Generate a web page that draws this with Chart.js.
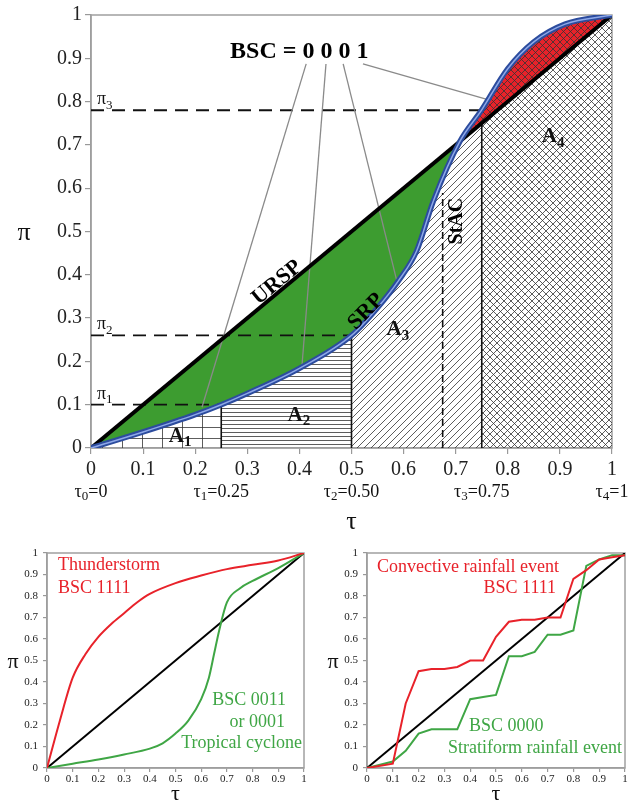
<!DOCTYPE html>
<html>
<head>
<meta charset="utf-8">
<script src="https://cdn.jsdelivr.net/npm/chart.js@4.4.1/dist/chart.umd.min.js"></script>
<style>
body { margin: 0; background: #fff; width: 633px; height: 803px; position: relative; overflow: hidden; }
canvas { position: absolute; }
#topChart { left: 0; top: 0; }
#leftChart { left: 0; top: 530px; }
#rightChart { left: 316px; top: 530px; }
</style>
</head>
<body>
<canvas id="topChart" width="633" height="540"></canvas>
<canvas id="leftChart" width="316" height="273"></canvas>
<canvas id="rightChart" width="317" height="273"></canvas>
<script>
// main diagram: SRP curve and the uniform line URSP
const srpTau = [0, 0.1, 0.2, 0.25, 0.3, 0.4, 0.5, 0.55, 0.59, 0.625, 0.657, 0.708, 0.75, 0.8, 0.85, 0.91, 1];
const srpPi = [0, 0.037, 0.077, 0.1, 0.126, 0.184, 0.26, 0.324, 0.386, 0.455, 0.57, 0.708, 0.781, 0.876, 0.938, 0.979, 1];
const urspTau = [0, 1];
const urspPi = [0, 1];
const tauBreaks = [0, 0.25, 0.5, 0.75, 1];
const piBreaks = [0.1, 0.26, 0.78];
const stacTau = 0.675;
const bscText = 'BSC = 0 0 0 1';
const leaderFrom = [[0.413, 0.887], [0.451, 0.887], [0.484, 0.887], [0.522, 0.887]];
const leaderTo = [[0.213, 0.094], [0.405, 0.191], [0.587, 0.386], [0.76, 0.805]];

// bottom left: thunderstorm vs tropical cyclone
const stormTau = [0, 0.05, 0.1, 0.15, 0.2, 0.25, 0.3, 0.35, 0.4, 0.5, 0.6, 0.7, 0.8, 0.9, 1];
const stormPi = [0, 0.22, 0.42, 0.53, 0.61, 0.67, 0.72, 0.77, 0.81, 0.86, 0.895, 0.925, 0.945, 0.965, 1];
const cycloneTau = [0, 0.1, 0.2, 0.3, 0.4, 0.45, 0.5, 0.55, 0.6, 0.63, 0.65, 0.67, 0.7, 0.75, 0.8, 0.9, 1];
const cyclonePi = [0, 0.02, 0.04, 0.063, 0.09, 0.115, 0.16, 0.22, 0.32, 0.42, 0.53, 0.64, 0.77, 0.835, 0.87, 0.93, 1];

// bottom right: convective vs stratiform rainfall event
const eventTau = [0, 0.1, 0.15, 0.2, 0.25, 0.3, 0.35, 0.4, 0.45, 0.5, 0.55, 0.6, 0.65, 0.7, 0.75, 0.8, 0.85, 0.9, 0.95, 1];
const convectivePi = [0, 0.02, 0.30, 0.45, 0.46, 0.46, 0.47, 0.50, 0.50, 0.61, 0.68, 0.69, 0.69, 0.70, 0.70, 0.88, 0.92, 0.97, 0.98, 0.99];
const stratiformPi = [0, 0.03, 0.08, 0.16, 0.18, 0.18, 0.18, 0.32, 0.33, 0.34, 0.52, 0.52, 0.54, 0.62, 0.62, 0.64, 0.94, 0.97, 0.99, 0.99];

const serif = '"Liberation Serif", "Times New Roman", serif';
const RED = '#e8222a';
const GREEN = '#3fa645';

Chart.defaults.font.family = serif;
Chart.defaults.color = '#222';
Chart.defaults.animation = false;
Chart.defaults.responsive = false;
Chart.defaults.events = [];
Chart.defaults.devicePixelRatio = 1;
Chart.defaults.plugins.legend.display = false;
Chart.defaults.plugins.tooltip.enabled = false;
Chart.defaults.elements.point.radius = 0;

function pts(xs, ys) {
    return xs.map((x, i) => ({ x: x, y: ys[i] }));
}
function interp(xs, ys, x) {
    for (let i = 1; i < xs.length; i++) {
        if (x <= xs[i]) {
            const t = (x - xs[i - 1]) / (xs[i] - xs[i - 1]);
            return ys[i - 1] + t * (ys[i] - ys[i - 1]);
        }
    }
    return ys[ys.length - 1];
}
const srpAt = x => interp(srpTau, srpPi, x);
const urspAt = x => interp(urspTau, urspPi, x);
const lowerAt = x => Math.min(srpAt(x), urspAt(x));

// area under the lower of SRP / URSP between two tau breaks
function areaPts(a, b) {
    const xs = [a].concat(srpTau.filter(t => t > a && t < b), [b]);
    return xs.map(t => ({ x: t, y: lowerAt(t) }));
}

function makePattern(w, h, bg, draw, dx, dy) {
    const c = document.createElement('canvas');
    c.width = w; c.height = h;
    const g = c.getContext('2d');
    if (bg) { g.fillStyle = bg; g.fillRect(0, 0, w, h); }
    g.strokeStyle = '#333';
    g.lineWidth = 0.8;
    g.beginPath();
    draw(g, w, h);
    g.stroke();
    const p = document.getElementById('topChart').getContext('2d').createPattern(c, 'repeat');
    if (dx || dy) p.setTransform(new DOMMatrix([1, 0, 0, 1, dx || 0, dy || 0]));
    return p;
}
function cross(g, w, h) {
    g.moveTo(0, 0); g.lineTo(w, h);
    g.moveTo(0, h); g.lineTo(w, 0);
}
const gridPat = makePattern(20, 11, null, (g, w, h) => {
    g.moveTo(0.5, 0); g.lineTo(0.5, h);
    g.moveTo(0, 0.5); g.lineTo(w, 0.5);
}, 2, 9);
const hLinePat = makePattern(8, 4, null, (g, w) => { g.moveTo(0, 0.5); g.lineTo(w, 0.5); });
const diagPat = makePattern(7, 7, null, (g, w, h) => {
    g.moveTo(0, h); g.lineTo(w, 0);
    g.moveTo(-1, 1); g.lineTo(1, -1);
    g.moveTo(w - 1, h + 1); g.lineTo(w + 1, h - 1);
});
const crossPat = makePattern(7, 7, null, cross);
const redPat = makePattern(7, 7, RED, cross);
const regionFills = [gridPat, hLinePat, diagPat, crossPat];

function fmt(v) { return String(Math.round(v * 10) / 10); }

function axes(tickSize, yWidth, xHeight, tickLen, yPad, xPad) {
    const common = {
        type: 'linear', min: 0, max: 1,
        grid: { drawOnChartArea: false, drawTicks: true, tickLength: tickLen, color: '#999', lineWidth: 1.2 },
        border: { color: '#999', width: 1.5 }
    };
    return {
        x: Object.assign({}, common, {
            ticks: { stepSize: 0.1, autoSkip: false, maxRotation: 0, font: { size: tickSize }, color: '#222', padding: xPad, callback: fmt },
            afterFit: s => { s.height = xHeight; }
        }),
        y: Object.assign({}, common, {
            ticks: { stepSize: 0.1, font: { size: tickSize }, color: '#222', padding: yPad, callback: fmt },
            afterFit: s => { s.width = yWidth; }
        })
    };
}

const boxPlugin = {
    id: 'box',
    beforeDatasetsDraw(chart) {
        const a = chart.chartArea, ctx = chart.ctx;
        ctx.save();
        ctx.strokeStyle = '#a0a0a0';
        ctx.lineWidth = 1.5;
        ctx.strokeRect(a.left, a.top, a.right - a.left, a.bottom - a.top);
        ctx.restore();
    }
};

function notes(fn) {
    return {
        id: 'notes',
        afterDatasetsDraw(chart) {
            const ctx = chart.ctx;
            ctx.save();
            fn(ctx, v => chart.scales.x.getPixelForValue(v), v => chart.scales.y.getPixelForValue(v), chart.chartArea);
            ctx.restore();
        }
    };
}
function text(ctx, s, x, y, size, color, align, weight, base) {
    ctx.font = (weight || 'normal') + ' ' + size + 'px ' + serif;
    ctx.fillStyle = color || '#111';
    ctx.textAlign = align || 'center';
    ctx.textBaseline = base || 'middle';
    ctx.fillText(s, x, y);
}
// text with a subscript, e.g. tau_1=0.25; y is the baseline
function subText(ctx, main, sub, rest, x, y, size, weight, align, drop) {
    const f1 = weight + ' ' + size + 'px ' + serif;
    const f2 = weight + ' ' + Math.round(size * 0.7) + 'px ' + serif;
    ctx.font = f1;
    const w1 = ctx.measureText(main).width, w3 = ctx.measureText(rest).width;
    ctx.font = f2;
    const w2 = ctx.measureText(sub).width;
    const left = align === 'center' ? x - (w1 + w2 + w3) / 2 : x;
    ctx.fillStyle = '#111';
    ctx.textAlign = 'left';
    ctx.textBaseline = 'alphabetic';
    ctx.font = f1; ctx.fillText(main, left, y);
    ctx.font = f2; ctx.fillText(sub, left + w1, y + size * drop);
    ctx.font = f1; ctx.fillText(rest, left + w1 + w2, y);
}

// ---------- main diagram ----------
const topSets = [];
// pattern areas A1..A4
tauBreaks.slice(0, -1).forEach((a, i) => {
    topSets.push({ data: areaPts(a, tauBreaks[i + 1]), borderWidth: 0, fill: 'origin', backgroundColor: regionFills[i], cubicInterpolationMode: 'monotone', order: 10 });
});
// verticals at tau breaks and the StAC dashed line
tauBreaks.slice(1, -1).forEach(t => {
    topSets.push({ data: [{ x: t, y: 0 }, { x: t, y: lowerAt(t) }], borderColor: '#111', borderWidth: 1.6, order: 9 });
});
topSets.push({ data: [{ x: stacTau, y: 0 }, { x: stacTau, y: srpAt(stacTau) - 0.03 }], borderColor: '#111', borderWidth: 1.6, borderDash: [7, 4], order: 9 });
// URSP line (target of the SRP fill)
const urspIndex = topSets.length;
topSets.push({ data: pts(urspTau, urspPi), borderColor: '#000', borderWidth: 4, order: 5 });
// fill between SRP and URSP
topSets.push({ data: pts(srpTau, srpPi), borderWidth: 0, cubicInterpolationMode: 'monotone', order: 8,
    fill: { target: urspIndex, above: redPat, below: '#3d9c30' } });
// dashed pi levels
piBreaks.forEach((p, i) => {
    topSets.push({ data: [{ x: 0, y: p }, { x: tauBreaks[i + 1], y: p }], borderColor: '#111', borderWidth: 1.8, borderDash: [13, 8], order: 7 });
});
// leader lines from the BSC digits
leaderFrom.forEach((f, i) => {
    topSets.push({ data: [{ x: f[0], y: f[1] }, { x: leaderTo[i][0], y: leaderTo[i][1] }], borderColor: '#8a8a8a', borderWidth: 1.3, order: 6 });
});
// SRP double line
topSets.push({ data: pts(srpTau, srpPi), borderColor: '#2c4c9e', borderWidth: 5.5, cubicInterpolationMode: 'monotone', order: 4 });
topSets.push({ data: pts(srpTau, srpPi), borderColor: '#8ea8e8', borderWidth: 1.5, cubicInterpolationMode: 'monotone', order: 3 });

const topNotes = notes((ctx, px, py) => {
    text(ctx, '\u03c0', 24, py(0.5) + 2, 26);
    text(ctx, '\u03c4', px(0.5), 522, 26);
    text(ctx, bscText, px(0.267), py(0.901), 24, '#000', 'left', 'bold', 'alphabetic');
    tauBreaks.forEach((t, i) => {
        subText(ctx, '\u03c4', String(i), '=' + (i === 0 ? '0' : i === 4 ? '1' : t.toFixed(2)), px(t), 497, 18, 'normal', 'center', 0.18);
    });
    piBreaks.forEach((p, i) => {
        subText(ctx, '\u03c0', String(i + 1), '', px(0) + 6, py(p) - 6, 18, 'normal', 'left', 0.25);
    });
    ['A', 'A', 'A', 'A'].forEach((s, i) => {
        const pos = [[0.171, 0.014], [0.399, 0.062], [0.589, 0.26], [0.887, 0.706]][i];
        subText(ctx, s, String(i + 1), '', px(pos[0]), py(pos[1]), 21, 'bold', 'center', 0.2);
    });
    const ang = Math.atan2(py(1) - py(0), px(1) - px(0));
    [['URSP', 0.357, 0.382, ang, 22], ['SRP', 0.528, 0.315, -0.8, 22], ['StAC', 0.702, 0.524, -Math.PI / 2, 20]].forEach(l => {
        ctx.save();
        ctx.translate(px(l[1]), py(l[2]));
        ctx.rotate(l[3]);
        text(ctx, l[0], 0, 0, l[4], '#000', 'center', 'bold');
        ctx.restore();
    });
});

new Chart(document.getElementById('topChart'), {
    type: 'line',
    data: { datasets: topSets },
    options: {
        layout: { padding: { top: 13, right: 21, left: 0, bottom: 0 } },
        scales: axes(20, 91, 92, 6, 3, 4),
        plugins: { filler: { propagate: false } }
    },
    plugins: [boxPlugin, topNotes]
});

// ---------- small charts ----------
function smallChart(id, sets, yWidth, padRight, labels) {
    new Chart(document.getElementById(id), {
        type: 'line',
        data: { datasets: sets },
        options: {
            layout: { padding: { top: 23, right: padRight, left: 0, bottom: 0 } },
            scales: axes(11, yWidth, 35, 4, 5, 1)
        },
        plugins: [boxPlugin, notes((ctx, px, py, a) => {
            text(ctx, '\u03c0', a.left - 34, (a.top + a.bottom) / 2 + 2, 22);
            text(ctx, '\u03c4', (a.left + a.right) / 2, a.bottom + 26, 22);
            labels.forEach(l => text(ctx, l[0], px(l[1]), py(l[2]), 18, l[3], l[4]));
        })]
    });
}
const diag = { data: pts(urspTau, urspPi), borderColor: '#000', borderWidth: 2, order: 5 };

smallChart('leftChart', [
    { data: pts(stormTau, stormPi), borderColor: RED, borderWidth: 2, cubicInterpolationMode: 'monotone', order: 1 },
    { data: pts(cycloneTau, cyclonePi), borderColor: GREEN, borderWidth: 2, cubicInterpolationMode: 'monotone', order: 2 },
    diag
], 47, 12, [
    ['Thunderstorm', 0.043, 0.944, RED, 'left'],
    ['BSC 1111', 0.043, 0.837, RED, 'left'],
    ['BSC 0011', 0.93, 0.316, GREEN, 'right'],
    ['or 0001', 0.926, 0.214, GREEN, 'right'],
    ['Tropical cyclone', 0.992, 0.116, GREEN, 'right']
]);

smallChart('rightChart', [
    { data: pts(eventTau, convectivePi), borderColor: RED, borderWidth: 2, order: 1 },
    { data: pts(eventTau, stratiformPi), borderColor: GREEN, borderWidth: 2, order: 2 },
    Object.assign({}, diag)
], 51, 8, [
    ['Convective rainfall event', 0.039, 0.935, RED, 'left'],
    ['BSC 1111', 0.733, 0.837, RED, 'right'],
    ['BSC 0000', 0.395, 0.195, GREEN, 'left'],
    ['Stratiform rainfall event', 0.988, 0.093, GREEN, 'right']
]);
</script>
</body>
</html>
